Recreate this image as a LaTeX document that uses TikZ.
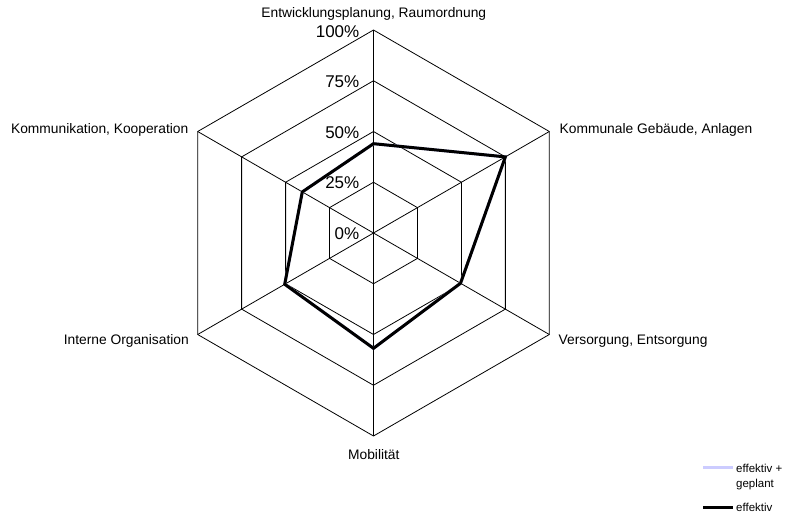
\documentclass[tikz,border=0pt]{standalone}
\usepackage{fontspec}
\setmainfont{Liberation Sans}
\usetikzlibrary{calc}
\definecolor{planblue}{RGB}{204,204,255}
\tikzset{
  gridline/.style={draw=black, line width=0.8pt},
  axislabel/.style={font=\fontsize{13.8}{16}\selectfont, inner sep=0pt},
  pctlabel/.style={font=\fontsize{17}{20}\selectfont, inner sep=0pt, anchor=base east},
  dataline/.style={line width=3pt, line join=miter, draw=black},
  planline/.style={line width=3pt, line join=miter, draw=planblue},
  legendtext/.style={font=\fontsize{11.5}{14}\selectfont, inner sep=0pt, anchor=base west}
}
\begin{document}
\begin{tikzpicture}[x=1pt,y=-1pt]
\useasboundingbox (0,0) rectangle (793,515);
\coordinate (c) at (373.5,233);
\foreach \k in {0,...,5}
  \coordinate (v\k) at ({373.5+203*sin(60*\k)},{233-203*cos(60*\k)});
% grid hexagons
\foreach \f in {0.25,0.5,0.75,1}
  \draw[gridline] ($(c)!\f!(v0)$) -- ($(c)!\f!(v1)$) -- ($(c)!\f!(v2)$) -- ($(c)!\f!(v3)$) -- ($(c)!\f!(v4)$) -- ($(c)!\f!(v5)$) -- cycle;
% spokes
\foreach \k in {0,...,5}
  \draw[gridline] (c) -- (v\k);
% percent labels
\node[pctlabel] (p100) at (359.5,37) {100\%};
\node[pctlabel] (p75) at (359.5,87.5) {75\%};
\node[pctlabel] (p50) at (359.5,138.5) {50\%};
\node[pctlabel] (p25) at (359.5,188.5) {25\%};
\node[pctlabel] (p0) at (359.5,239) {0\%};
% data
\coordinate (d0) at ($(c)!0.44!(v0)$);
\coordinate (d1) at ($(c)!0.75!(v1)$);
\coordinate (d2) at ($(c)!0.495!(v2)$);
\coordinate (d3) at ($(c)!0.568!(v3)$);
\coordinate (d4) at ($(c)!0.505!(v4)$);
\coordinate (d5) at ($(c)!0.405!(v5)$);
\draw[planline] (d0) -- (d1) -- (d2) -- (d3) -- (d4) -- (d5) -- cycle;
\draw[dataline] (d0) -- (d1) -- (d2) -- (d3) -- (d4) -- (d5) -- cycle;
% axis labels
\node[axislabel, anchor=base] (l0) at (373.8,17) {Entwicklungsplanung, Raumordnung};
\node[axislabel, anchor=base west] (l1) at (559.5,133) {Kommunale Gebäude, Anlagen};
\node[axislabel, anchor=base west] (l2) at (558.5,344) {Versorgung, Entsorgung};
\node[axislabel, anchor=base] (l3) at (373.8,459) {Mobilität};
\node[axislabel, anchor=base east] (l4) at (189,344) {Interne Organisation};
\node[axislabel, anchor=base east] (l5) at (188.5,133) {Kommunikation, Kooperation};
% legend
\coordinate (lg1a) at (703,467.5);
\coordinate (lg1b) at (733,467.5);
\coordinate (lg2a) at (703,507);
\coordinate (lg2b) at (733,507);
\draw[planline] (lg1a) -- (lg1b);
\draw[dataline] (lg2a) -- (lg2b);
\node[legendtext] (t1) at (736,472.5) {effektiv +};
\node[legendtext] (t1b) at (736,487) {geplant};
\node[legendtext] (t2) at (736,511.5) {effektiv};
\end{tikzpicture}
\end{document}
